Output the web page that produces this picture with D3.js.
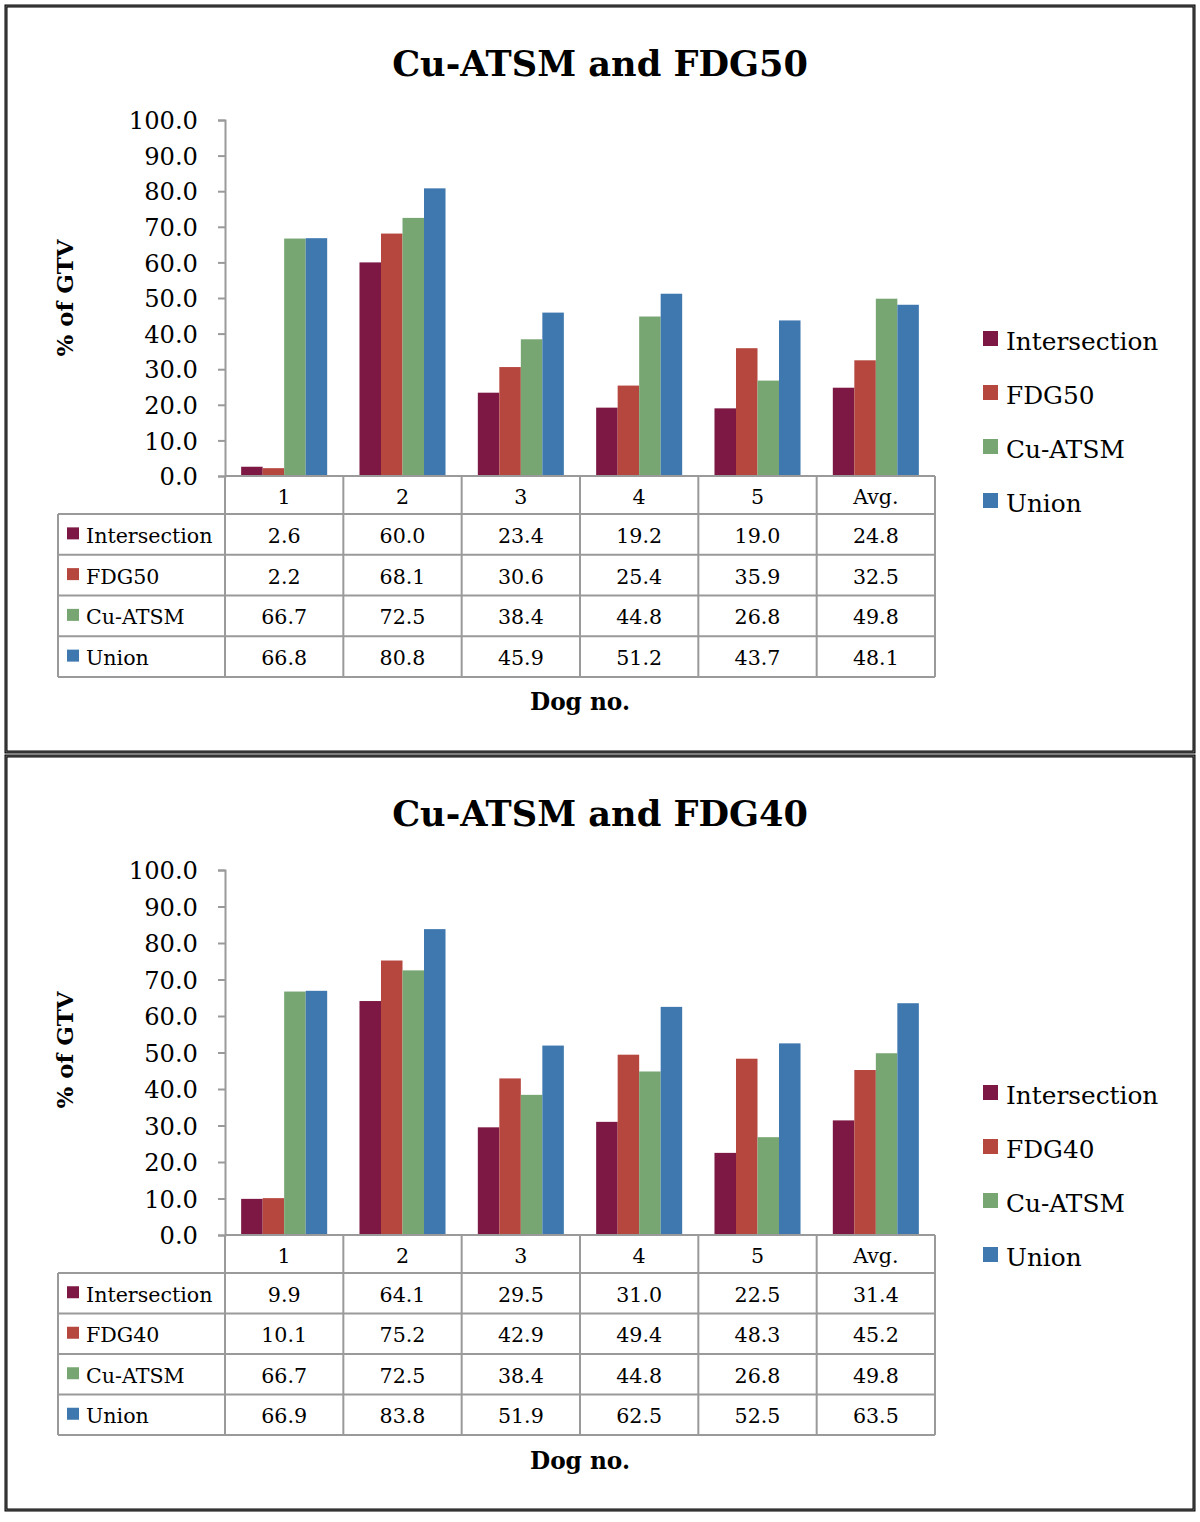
<!DOCTYPE html>
<html><head><meta charset="utf-8">
<script src="https://cdn.jsdelivr.net/npm/d3@7"></script>
<style>body{margin:0;background:#fff}svg{display:block}</style>
</head><body>
<svg id="c" width="1200" height="1522"></svg>
<script>
const categories = ["1","2","3","4","5","Avg."];
const yTicks = [0,10,20,30,40,50,60,70,80,90,100];
const seriesNames50 = ["Intersection","FDG50","Cu-ATSM","Union"];
const seriesNames40 = ["Intersection","FDG40","Cu-ATSM","Union"];
const intersection50 = [2.6,60.0,23.4,19.2,19.0,24.8];
const fdg50 = [2.2,68.1,30.6,25.4,35.9,32.5];
const cuatsm50 = [66.7,72.5,38.4,44.8,26.8,49.8];
const union50 = [66.8,80.8,45.9,51.2,43.7,48.1];
const intersection40 = [9.9,64.1,29.5,31.0,22.5,31.4];
const fdg40 = [10.1,75.2,42.9,49.4,48.3,45.2];
const cuatsm40 = [66.7,72.5,38.4,44.8,26.8,49.8];
const union40 = [66.9,83.8,51.9,62.5,52.5,63.5];
const colors = ["#7c1843","#b5473f","#77a672","#3e78af"];

const svg = d3.select("#c");
const FONT = "'DejaVu Serif', 'Liberation Serif', serif";
const GRID = "#9a9a9a";

function fitText(sel, w){
  const n = sel.node();
  const fs = parseFloat(sel.attr("font-size"));
  const cur = n.getComputedTextLength();
  sel.attr("font-size", fs * w / cur);
}

function panel(cfg){
  const g = svg.append("g");
  g.append("rect").attr("x",cfg.fx).attr("y",cfg.fy).attr("width",cfg.fw).attr("height",cfg.fh)
    .attr("fill","none").attr("stroke","#000").attr("stroke-width",3);
  g.append("rect").attr("x",cfg.fx).attr("y",cfg.fy).attr("width",cfg.fw).attr("height",cfg.fh)
    .attr("fill","none").attr("stroke","#808080").attr("stroke-width",0.8);

  const t = g.append("text").attr("x",600).attr("y",cfg.titleY).attr("text-anchor","middle")
    .attr("font-family",FONT).attr("font-weight","bold").attr("font-size",40).text(cfg.title);
  fitText(t, 416);

  const x0 = d3.scaleBand().domain(categories).range([225,935]).paddingInner(0.273).paddingOuter(0.1365);
  const x1 = d3.scaleBand().domain(cfg.names).range([0,x0.bandwidth()]).padding(0);
  const y = d3.scaleLinear().domain([0,100]).range([cfg.y0,cfg.y100]);

  const data = cfg.names.map((nm,i)=>({name:nm, values:cfg.series[i], color:colors[i]}));
  data.forEach(s=>{
    g.append("g").selectAll("rect").data(s.values).join("rect")
      .attr("x",(d,j)=>x0(categories[j])+x1(s.name))
      .attr("y",d=>y(d)).attr("width",x1.bandwidth()).attr("height",d=>y(0)-y(d))
      .attr("fill",s.color);
  });

  const ya = g.append("g").attr("transform","translate(225,0)")
    .call(d3.axisLeft(y).tickValues(yTicks).tickFormat(d=>d.toFixed(1)).tickSize(7).tickPadding(20));
  ya.select(".domain").attr("stroke",GRID).attr("stroke-width",2);
  ya.selectAll(".tick line").attr("stroke",GRID).attr("stroke-width",2);
  ya.selectAll(".tick text").attr("font-family",FONT).attr("font-size",24.2).attr("fill","#000").attr("dy","0.36em");

  const yt = g.append("text").attr("transform",`translate(73,${cfg.ytitleY}) rotate(-90)`)
    .attr("text-anchor","middle").attr("font-family",FONT).attr("font-weight","bold")
    .attr("font-size",26).text("% of GTV");
  fitText(yt, 117);

  const step = x0.step();
  const colX = d3.range(categories.length+1).map(i=>225+i*step);
  const rowY = [cfg.y0, cfg.y0+cfg.headH];
  for(let i=1;i<=4;i++) rowY.push(cfg.y0+cfg.headH+i*cfg.rowH);
  const tb = g.append("g").attr("stroke",GRID).attr("stroke-width",2);
  tb.append("line").attr("x1",225).attr("x2",935).attr("y1",rowY[0]).attr("y2",rowY[0]);
  for(let i=1;i<rowY.length;i++)
    tb.append("line").attr("x1",58).attr("x2",935).attr("y1",rowY[i]).attr("y2",rowY[i]);
  colX.forEach(cx=>tb.append("line").attr("x1",cx).attr("x2",cx).attr("y1",rowY[0]).attr("y2",rowY[5]));
  tb.append("line").attr("x1",58).attr("x2",58).attr("y1",rowY[1]).attr("y2",rowY[5]);

  g.append("g").selectAll("text").data(categories).join("text")
    .attr("x",d=>x0(d)+x0.bandwidth()/2).attr("y",(rowY[0]+rowY[1])/2+2).attr("dy","0.36em")
    .attr("text-anchor","middle").attr("font-family",FONT).attr("font-size",20.6).text(d=>d);

  data.forEach((s,i)=>{
    const cy = (rowY[i+1]+rowY[i+2])/2 + 1;
    g.append("rect").attr("x",67).attr("y",cy-8).attr("width",12).attr("height",12).attr("fill",s.color);
    g.append("text").attr("x",86).attr("y",cy).attr("dy","0.36em").attr("font-family",FONT)
      .attr("font-size",20.6).text(s.name);
    g.append("g").selectAll("text").data(s.values).join("text")
      .attr("x",(d,j)=>x0(categories[j])+x0.bandwidth()/2).attr("y",cy).attr("dy","0.36em")
      .attr("text-anchor","middle").attr("font-family",FONT).attr("font-size",20.6)
      .text(d=>d.toFixed(1));
  });

  const xt = g.append("text").attr("x",580).attr("y",cfg.xtitleY).attr("text-anchor","middle")
    .attr("font-family",FONT).attr("font-weight","bold").attr("font-size",26).text("Dog no.");
  fitText(xt, 100);

  data.forEach((s,i)=>{
    const cy = cfg.legY + i*54;
    g.append("rect").attr("x",983).attr("y",cy-10).attr("width",15).attr("height",15).attr("fill",s.color);
    g.append("text").attr("x",1006).attr("y",cy).attr("dy","0.36em").attr("font-family",FONT)
      .attr("font-size",24.8).text(s.name);
  });
}

panel({fx:6,fy:6,fw:1188,fh:746,title:"Cu-ATSM and FDG50",titleY:76,
  names:seriesNames50,series:[intersection50,fdg50,cuatsm50,union50],
  y0:476,y100:120,headH:38,rowH:40.75,ytitleY:298,xtitleY:710,legY:341});
panel({fx:6,fy:756,fw:1188,fh:754,title:"Cu-ATSM and FDG40",titleY:826,
  names:seriesNames40,series:[intersection40,fdg40,cuatsm40,union40],
  y0:1235,y100:870,headH:38,rowH:40.5,ytitleY:1050,xtitleY:1469,legY:1095});
</script>
</body></html>
